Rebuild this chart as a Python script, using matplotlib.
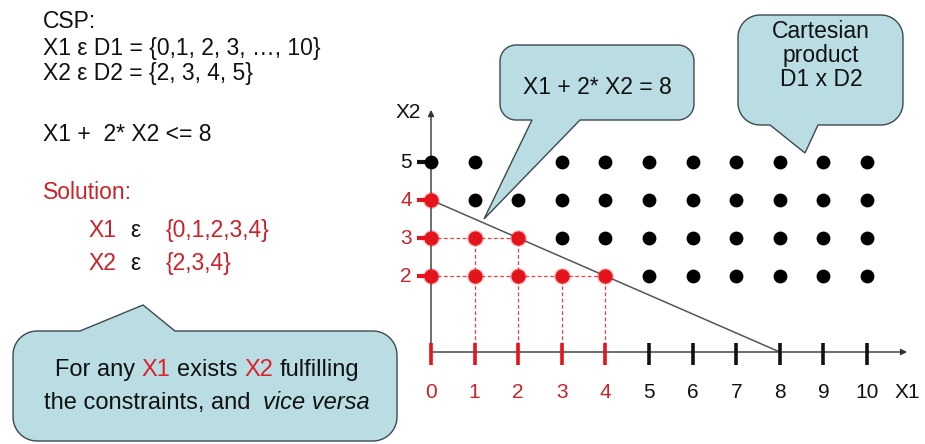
import numpy as np
import matplotlib.pyplot as plt
from matplotlib.patches import Polygon
from matplotlib.offsetbox import TextArea, HPacker, AnnotationBbox

plt.rcParams['font.family'] = ['Liberation Sans', 'DejaVu Sans']

# --- data: the CSP ---
x1_domain = [0, 1, 2, 3, 4, 5, 6, 7, 8, 9, 10]
x2_domain = [2, 3, 4, 5]
sol_x1_values = [0, 1, 2, 3, 4]
sol_x2_values = [2, 3, 4]
# points of D1 x D2 that satisfy X1 + 2*X2 <= 8
sol_x1 = [0, 0, 1, 2, 0, 1, 2, 3, 4]
sol_x2 = [4, 3, 3, 3, 2, 2, 2, 2, 2]
# boundary line X1 + 2*X2 = 8
line_x1 = [0, 8]
line_x2 = [4, 0]

RED = '#e3141c'
RED_TXT = '#c8232b'
BLACK = '#111111'
FILL = '#b9dde3'
EDGE = '#3c4a50'

fig = plt.figure(figsize=(9.25, 4.44), dpi=100)

# main axes, scaled so that data units land where the slide drew them
X0_PX, X_UNIT = 431, 43.6
Y0_PX, Y_UNIT = 352, 38.0
ax = fig.add_axes([0, 0, 1, 1])
ax.set_xlim(-X0_PX / X_UNIT, (925 - X0_PX) / X_UNIT)
ax.set_ylim((Y0_PX - 444) / Y_UNIT, Y0_PX / Y_UNIT)
ax.axis('off')

# axes with arrows
arrow = dict(arrowstyle='-|>', color='#333333', lw=1.0, mutation_scale=9,
             shrinkA=0, shrinkB=0)
ax.annotate('', xy=(10.92, 0), xytext=(0, 0), arrowprops=arrow)
ax.annotate('', xy=(0, 6.37), xytext=(0, 0), arrowprops=arrow)
ax.text(10.64, -1.21, 'X1', ha='left', va='baseline', fontsize=15, color=BLACK)
ax.text(-0.53, 6.16, 'X2', ha='center', va='baseline', fontsize=15, color=BLACK)

# ticks and tick labels
xcols = [RED if v in sol_x1_values else BLACK for v in x1_domain]
ycols = [RED if v in sol_x2_values else BLACK for v in x2_domain]
ax.vlines(x1_domain, -0.34, 0.24, colors=xcols, lw=2.6, zorder=3)
ax.hlines(x2_domain, -0.32, 0, colors=ycols, lw=3, zorder=3)
for v, c in zip(x1_domain, xcols):
    ax.text(v, -1.21, str(v), ha='center', va='baseline', fontsize=15,
            color=RED_TXT if c == RED else BLACK)
for v, c in zip(x2_domain, ycols):
    ax.text(-0.44, v, str(v), ha='right', va='center', fontsize=15,
            color=RED_TXT if c == RED else BLACK)

# dashed guides for the solutions
for v in sorted(set(sol_x2)):
    xmax = max(a for a, b in zip(sol_x1, sol_x2) if b == v)
    if xmax > 0:
        ax.plot([0, xmax], [v, v], ls=(0, (3, 2)), color='#e0474c', lw=0.9, zorder=2)
for v in sorted(set(sol_x1)):
    if v == 0:
        continue
    ymax = max(b for a, b in zip(sol_x1, sol_x2) if a == v)
    ax.plot([v, v], [0, ymax], ls=(0, (3, 2)), color='#e0474c', lw=0.9, zorder=2)

# constraint boundary
ax.plot(line_x1, line_x2, color='#555555', lw=1.1, zorder=2)

# cartesian product dots
sol_pts = set(zip(sol_x1, sol_x2))
other = [(a, b) for b in x2_domain for a in x1_domain if (a, b) not in sol_pts]
ax.scatter([p[0] for p in other], [p[1] for p in other], s=80, color='black', zorder=4)
ax.scatter(sol_x1, sol_x2, s=150, color=RED, alpha=0.25, lw=0, zorder=4)
ax.scatter(sol_x1, sol_x2, s=85, color=RED, zorder=5)

# overlay in pixel coordinates for the slide text and callouts
ov = fig.add_axes([0, 0, 1, 1], zorder=5)
ov.set_xlim(0, 925)
ov.set_ylim(444, 0)
ov.axis('off')


def callout(x0, y0, x1, y1, r, ptr, side):
    a, b, tx, ty = ptr

    def arc(cx, cy, t0, t1):
        t = np.linspace(t0, t1, 12)
        return list(zip(cx + r * np.cos(t), cy + r * np.sin(t)))

    pts = arc(x0 + r, y0 + r, np.pi, 1.5 * np.pi)
    if side == 'top':
        pts += [(a, y0), (tx, ty), (b, y0)]
    pts += arc(x1 - r, y0 + r, 1.5 * np.pi, 2 * np.pi)
    pts += arc(x1 - r, y1 - r, 0, 0.5 * np.pi)
    if side == 'bottom':
        pts += [(b, y1), (tx, ty), (a, y1)]
    pts += arc(x0 + r, y1 - r, 0.5 * np.pi, np.pi)
    ov.add_patch(Polygon(pts, closed=True, fc=FILL, ec=EDGE, lw=1.0))


callout(500, 45, 694, 120, 16, (532, 580, 484, 219), 'bottom')
ov.text(597, 94, 'X1 + 2* X2 = 8', ha='center', va='baseline', fontsize=16.5, color=BLACK)

callout(738, 15, 903, 125, 22, (770, 818, 805, 153), 'bottom')
for txt, yb in zip(['Cartesian', 'product', 'D1 x D2'], [38, 62, 86]):
    ov.text(821, yb, txt, ha='center', va='baseline', fontsize=16.5, color=BLACK)

callout(13, 331, 397, 441, 24, (80, 175, 143, 305), 'top')


def packed(parts, sep):
    boxes = [TextArea(s, textprops=dict(fontsize=17, color=c, style=st))
             for s, c, st in parts]
    return HPacker(children=boxes, align='baseline', pad=0, sep=sep)


line1 = packed([('For any', BLACK, 'normal'), ('X1', '#e02028', 'normal'),
                ('exists', BLACK, 'normal'), ('X2', '#e02028', 'normal'),
                ('fulfilling', BLACK, 'normal')], 4.7)
line2 = HPacker(children=[packed([('the constraints, and', BLACK, 'normal')], 0),
                          packed([('vice versa', BLACK, 'italic')], 0)],
                align='baseline', pad=0, sep=9)
for box, yc in zip([line1, line2], [370, 402]):
    ov.add_artist(AnnotationBbox(box, (207, yc), xycoords='data', frameon=False,
                                 box_alignment=(0.5, 0.5), pad=0))

# left column text
LX = 43
ov.text(LX, 28, 'CSP:', fontsize=16.5, color=BLACK, va='baseline')
ov.text(LX, 55, 'X1 ε D1 = {0,1, 2, 3, …, 10}', fontsize=16.5, color=BLACK, va='baseline')
ov.text(LX, 80, 'X2 ε D2 = {2, 3, 4, 5}', fontsize=16.5, color=BLACK, va='baseline')
ov.text(LX, 141, 'X1 +  2* X2 <= 8', fontsize=16.5, color=BLACK, va='baseline')
ov.text(LX, 199, 'Solution:', fontsize=16.5, color=RED_TXT, va='baseline')
sol_sets = ['{' + ','.join(str(v) for v in sol_x1_values) + '}',
            '{' + ','.join(str(v) for v in sol_x2_values) + '}']
for name, sset, yb in zip(['X1', 'X2'], sol_sets, [237, 270]):
    ov.text(88, yb, name, fontsize=16.5, color=RED_TXT, va='baseline')
    ov.text(130, yb, 'ε', fontsize=16.5, color=BLACK, va='baseline')
    ov.text(166, yb, sset, fontsize=16.5, color=RED_TXT, va='baseline')

fig.savefig('out.png', dpi=100)
